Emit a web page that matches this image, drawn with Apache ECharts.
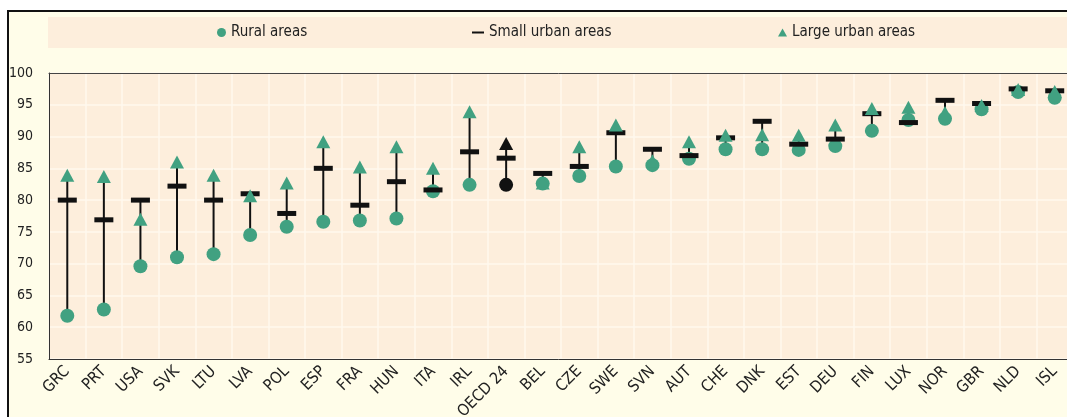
<!DOCTYPE html>
<html>
<head>
<meta charset="utf-8">
<script src="https://cdn.jsdelivr.net/npm/echarts@6/dist/echarts.min.js"></script>
<style>
body{margin:0;background:#fff;overflow:hidden;width:1067px;height:417px;position:relative}
#frame{position:absolute;left:7px;top:10px;width:1070px;height:420px;border-left:2px solid #111;border-top:2px solid #111;background:#FFFDE9}
#band{position:absolute;left:48px;top:17px;width:1030px;height:31px;background:#FDEEDC}
#chart{position:absolute;left:0;top:0;width:1067px;height:417px}
</style>
</head>
<body>
<div id="frame"></div>
<div id="band"></div>
<div id="chart"></div>
<script>
const categories = ['GRC','PRT','USA','SVK','LTU','LVA','POL','ESP','FRA','HUN','ITA','IRL','OECD 24','BEL','CZE','SWE','SVN','AUT','CHE','DNK','EST','DEU','FIN','LUX','NOR','GBR','NLD','ISL'];
const rural = [61.8,62.8,69.6,71.0,71.5,74.5,75.8,76.6,76.8,77.1,81.4,82.4,82.4,82.6,83.8,85.3,85.5,86.5,88.0,88.0,87.9,88.5,90.9,92.6,92.8,94.3,97.0,96.1];
const smallUrban = [80.0,76.9,80.0,82.2,80.0,81.0,77.9,85.0,79.2,82.9,81.6,87.6,86.6,84.2,85.3,90.6,88.0,87.0,89.8,92.4,88.8,89.6,93.6,92.2,95.7,95.2,97.5,97.2];
const largeUrban = [83.9,83.7,77.0,86.0,83.9,80.7,82.7,89.2,85.2,88.4,85.0,93.9,88.9,82.7,88.4,91.8,86.2,89.2,90.2,90.3,90.2,91.8,94.4,94.6,93.8,94.9,97.4,97.1];
const yTicks = {min:55, max:100, interval:5};
const highlight = 'OECD 24';

const FONT = "'Liberation Sans Narrow','Arial Narrow','DejaVu Sans Condensed',sans-serif";
const GREEN = '#41A181';
const BLACK = '#111111';

function pts(arr){
  return arr.map((v,i)=> categories[i]===highlight ? {value:[i,v], itemStyle:{color:BLACK}} : {value:[i,v]});
}
const ranges = categories.map((c,i)=>{
  const vals=[rural[i],smallUrban[i],largeUrban[i]];
  return [i, Math.min(...vals), Math.max(...vals)];
});

const chart = echarts.init(document.getElementById('chart'), null, {renderer:'canvas'});
chart.setOption({
  animation:false,
  backgroundColor:'transparent',
  textStyle:{fontFamily:FONT},
  grid:{left:49, right:-6, top:73, bottom:58, show:true, backgroundColor:'#FDEEDC', borderWidth:0, containLabel:false, outerBoundsMode:'none'},
  legend:[
    {data:['Rural areas'], left:217, top:25, padding:0, icon:'circle', itemWidth:9, itemHeight:9, textStyle:{fontSize:15,color:'#222',fontFamily:FONT}},
    {data:['Small urban areas'], left:472, top:25, padding:0, icon:'rect', itemWidth:12, itemHeight:2, textStyle:{fontSize:15,color:'#222',fontFamily:FONT}},
    {data:['Large urban areas'], left:778, top:25, padding:0, icon:'triangle', itemWidth:9, itemHeight:8, textStyle:{fontSize:15,color:'#222',fontFamily:FONT}}
  ],
  xAxis:[
    {type:'category', data:categories, boundaryGap:true,
     axisLine:{lineStyle:{color:'#333',width:1}},
     axisTick:{inside:true,length:5,alignWithLabel:false,lineStyle:{color:'#333'}},
     axisLabel:{rotate:45, interval:0, margin:10, fontSize:16, color:'#222', fontFamily:FONT},
     splitLine:{show:true, interval:0, lineStyle:{color:'#FFF9EE', width:1.5}}},
    {type:'category', data:categories, position:'top', z:5,
     axisLine:{lineStyle:{color:'#444',width:1}}, axisTick:{show:false}, axisLabel:{show:false}, splitLine:{show:false}}
  ],
  yAxis:{type:'value', min:yTicks.min, max:yTicks.max, interval:yTicks.interval,
     axisLine:{show:true, lineStyle:{color:'#333',width:1}},
     axisTick:{show:false},
     axisLabel:{margin:16, fontSize:14, color:'#222', fontFamily:FONT},
     splitLine:{show:true, lineStyle:{color:'#FFF9EE', width:1.5}}},
  series:[
    {type:'custom', name:'range', z:2, data:ranges, encode:{x:0,y:[1,2]},
     renderItem:function(params, api){
       const x=api.value(0);
       const p1=api.coord([x, api.value(1)]);
       const p2=api.coord([x, api.value(2)]);
       return {type:'line', shape:{x1:p1[0],y1:p1[1],x2:p2[0],y2:p2[1]}, style:{stroke:BLACK,lineWidth:2}};
     }},
    {type:'scatter', name:'Rural areas', z:3, symbol:'circle', symbolSize:14, itemStyle:{color:GREEN,opacity:1}, data:pts(rural)},
    {type:'scatter', name:'Small urban areas', z:4, symbol:'rect', symbolSize:[19,5], itemStyle:{color:BLACK,opacity:1}, data:smallUrban.map((v,i)=>[i,v])},
    {type:'scatter', name:'Large urban areas', z:5, symbol:'triangle', symbolSize:[14,13], itemStyle:{color:GREEN,opacity:1}, data:pts(largeUrban)}
  ]
});
</script>
</body>
</html>
